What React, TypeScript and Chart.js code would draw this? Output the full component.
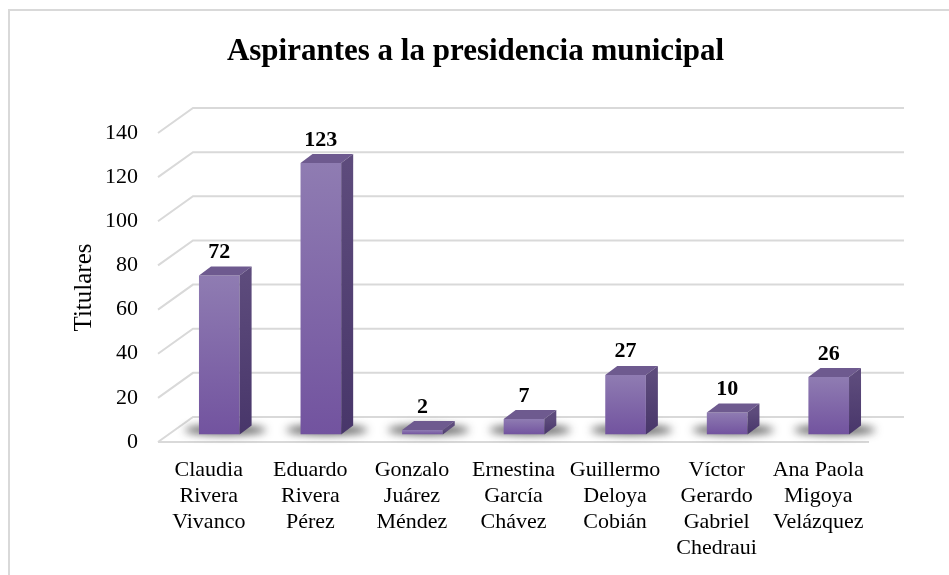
import { useEffect, useRef } from "react";
import { Chart, registerables } from "chart.js";

Chart.register(...registerables);

const chartTitle = "Aspirantes a la presidencia municipal";
const yAxisTitle = "Titulares";
const categories: string[][] = [
  ["Claudia", "Rivera", "Vivanco"],
  ["Eduardo", "Rivera", "Pérez"],
  ["Gonzalo", "Juárez", "Méndez"],
  ["Ernestina", "García", "Chávez"],
  ["Guillermo", "Deloya", "Cobián"],
  ["Víctor", "Gerardo", "Gabriel", "Chedraui"],
  ["Ana Paola", "Migoya", "Velázquez"],
];
const values = [72, 123, 2, 7, 27, 10, 26];
const yMin = 0;
const yMax = 140;
const yStep = 20;

const FONT = "'Liberation Serif', 'Times New Roman', serif";

// 3D geometry (pixels)
const WALL_DX = 35;
const WALL_DY = -25;
const BAR_OFF_X = 10.5;
const BAR_OFF_Y = -7.5;
const BAR_DX = 12;
const BAR_DY = -9;

const threeD = {
  id: "threeD",
  beforeDatasetsDraw(chart: any) {
    const { ctx, chartArea } = chart;
    const y = chart.scales.y;
    ctx.save();
    // outer border (left & top visible)
    ctx.fillStyle = "#d9d9d9";
    ctx.fillRect(8, 9, 2, chart.height - 9);
    ctx.fillRect(8, 9, chart.width - 8, 2);

    // grid lines: slanted left wall edge + back wall
    ctx.strokeStyle = "#d9d9d9";
    ctx.lineWidth = 2;
    for (let v = yMin; v <= yMax; v += yStep) {
      const py = y.getPixelForValue(v);
      ctx.beginPath();
      ctx.moveTo(chartArea.left, py);
      ctx.lineTo(chartArea.left + WALL_DX, py + WALL_DY);
      ctx.lineTo(chartArea.right + WALL_DX, py + WALL_DY);
      ctx.stroke();
    }
    const p0 = y.getPixelForValue(0);
    ctx.beginPath();
    ctx.moveTo(chartArea.left, p0);
    ctx.lineTo(chartArea.right, p0);
    ctx.stroke();

    // floor shadows
    const meta = chart.getDatasetMeta(0);
    ctx.filter = "blur(4px)";
    meta.data.forEach((bar: any) => {
      const cx = bar.x + BAR_OFF_X + BAR_DX / 2;
      const cy = bar.base + BAR_OFF_Y + BAR_DY / 2;
      ctx.fillStyle = "rgba(25,25,25,0.7)";
      ctx.beginPath();
      ctx.ellipse(cx, cy, bar.width * 1.0, 5, 0, 0, Math.PI * 2);
      ctx.fill();
    });
    ctx.filter = "none";
    ctx.restore();

    ctx.save();
    ctx.translate(BAR_OFF_X, BAR_OFF_Y);
  },
  afterDatasetsDraw(chart: any) {
    const { ctx } = chart;
    ctx.restore();
    const meta = chart.getDatasetMeta(0);
    ctx.save();
    meta.data.forEach((bar: any, i: number) => {
      const xL = bar.x - bar.width / 2 + BAR_OFF_X;
      const xR = bar.x + bar.width / 2 + BAR_OFF_X;
      const yT = bar.y + BAR_OFF_Y;
      const yB = bar.base + BAR_OFF_Y;
      // top face
      ctx.fillStyle = "#6e5a8f";
      ctx.beginPath();
      ctx.moveTo(xL, yT);
      ctx.lineTo(xR, yT);
      ctx.lineTo(xR + BAR_DX, yT + BAR_DY);
      ctx.lineTo(xL + BAR_DX, yT + BAR_DY);
      ctx.closePath();
      ctx.fill();
      // side face
      const g = ctx.createLinearGradient(0, yT, 0, yB);
      g.addColorStop(0, "#5d4b7c");
      g.addColorStop(1, "#48366a");
      ctx.fillStyle = g;
      ctx.beginPath();
      ctx.moveTo(xR, yT);
      ctx.lineTo(xR + BAR_DX, yT + BAR_DY);
      ctx.lineTo(xR + BAR_DX, yB + BAR_DY);
      ctx.lineTo(xR, yB);
      ctx.closePath();
      ctx.fill();
      // value label
      ctx.fillStyle = "#000";
      ctx.font = `bold 22px ${FONT}`;
      ctx.textAlign = "center";
      ctx.textBaseline = "alphabetic";
      ctx.fillText(String(values[i]), (xL + xR) / 2, yT - 17.5);
    });
    // chart title
    ctx.font = `bold 31px ${FONT}`;
    ctx.textAlign = "center";
    ctx.textBaseline = "alphabetic";
    ctx.fillStyle = "#000";
    ctx.fillText(chartTitle, 475.5, 60);
    ctx.restore();
  },
};

export default function App() {
  const ref = useRef<HTMLCanvasElement | null>(null);
  useEffect(() => {
    if (!ref.current) return;
    const chart = new Chart(ref.current, {
      type: "bar",
      data: {
        labels: categories,
        datasets: [
          {
            data: values,
            borderWidth: 0,
            barPercentage: 0.4,
            categoryPercentage: 1,
            backgroundColor: (c: any) => {
              const ch = c.chart;
              if (!ch.chartArea || c.raw === undefined) return "#7d64a8";
              const ys = ch.scales.y;
              const top = ys.getPixelForValue(c.raw);
              const base = ys.getPixelForValue(0);
              const g = ch.ctx.createLinearGradient(0, top, 0, base);
              g.addColorStop(0, "#8f7cb2");
              g.addColorStop(1, "#72539f");
              return g;
            },
          },
        ],
      },
      options: {
        responsive: false,
        animation: false,
        layout: { padding: { top: 133, left: 0, right: 80, bottom: 0 } },
        plugins: {
          legend: { display: false },
          tooltip: { enabled: false },
          title: { display: false },
        },
        scales: {
          x: {
            grid: { display: false, drawTicks: false },
            border: { display: false },
            ticks: {
              color: "#000",
              font: { family: FONT, size: 22, lineHeight: 1.18 },
              padding: 15,
              maxRotation: 0,
              autoSkip: false,
            },
            afterFit: (s: any) => {
              s.height = 133;
            },
          },
          y: {
            min: yMin,
            max: yMax,
            grid: { display: false, drawTicks: false },
            border: { display: false },
            ticks: {
              stepSize: yStep,
              color: "#000",
              font: { family: FONT, size: 22 },
              padding: 20,
            },
            title: {
              display: true,
              text: yAxisTitle,
              color: "#000",
              font: { family: FONT, size: 25, lineHeight: 1.2 },
              padding: { top: 69, bottom: 0 },
            },
            afterFit: (s: any) => {
              s.width = 158;
            },
          },
        },
      },
      plugins: [threeD],
    });
    return () => chart.destroy();
  }, []);
  return (
    <canvas
      ref={ref}
      width={949}
      height={575}
      style={{ position: "fixed", left: 0, top: 0 }}
    />
  );
}
